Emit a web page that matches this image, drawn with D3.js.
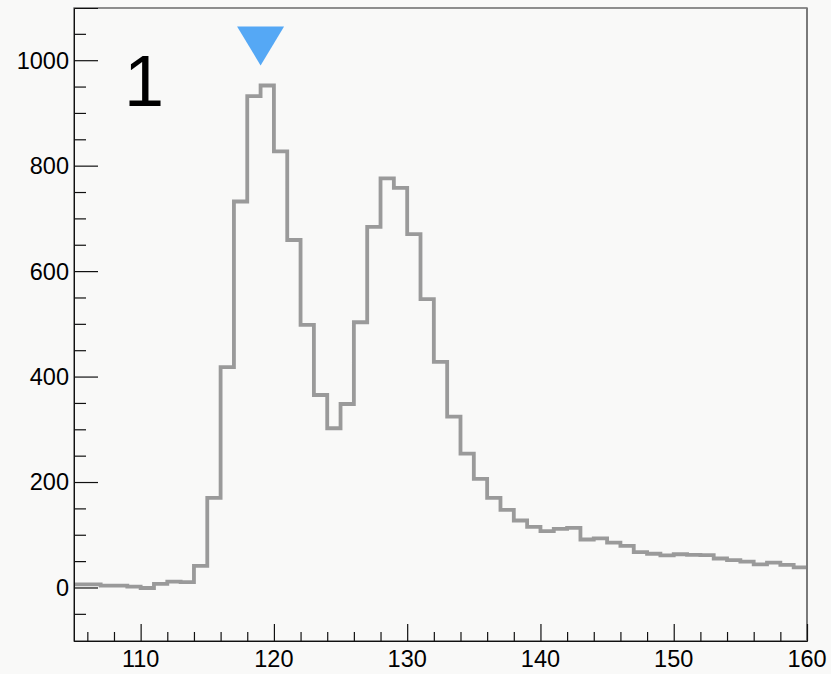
<!DOCTYPE html>
<html>
<head>
<meta charset="utf-8">
<script src="https://cdn.jsdelivr.net/npm/d3@7"></script>
<style>
  html, body { margin: 0; padding: 0; background: #f9f9f8; }
  svg { display: block; }
</style>
</head>
<body>
<svg id="chart" width="831" height="674"></svg>
<script>
// ---- data ----
const binLowEdges = [105,106,107,108,109,110,111,112,113,114,115,116,117,118,119,120,121,122,123,124,
  125,126,127,128,129,130,131,132,133,134,135,136,137,138,139,140,141,142,143,144,
  145,146,147,148,149,150,151,152,153,154,155,156,157,158,159];
const binWidth = 1;
const counts = [6,6,3.5,3.5,1.5,-1,7,11,10,41,170,418,732,932,952,827,659,498,365,302,
  348,503,684,776,758,670,547,428,324,254,206,170,147,127,115,107,111,113,91,93,
  85,79,67,64,61,63,62,61.5,55,52,49,44,47,43,38];
const xDomain = [105, 160];
const yDomain = [-101.5, 1099];
const xMajorTicks = [110,120,130,140,150,160];
const xMinorTicks = [106,108,112,114,116,118,122,124,126,128,132,134,136,138,142,144,146,148,152,154,156,158];
const yMajorTicks = [0,200,400,600,800,1000];
const yMinorTicks = [-50,50,100,150,250,300,350,450,500,550,650,700,750,850,900,950,1050];
const markerPoint = {x: 119, y: 1027};
const padLabel = "1";

// ---- layout ----
const svg = d3.select("#chart");
const L = 74, R = 807, T = 8, B = 641;
const x = d3.scaleLinear().domain(xDomain).range([L, R]);
const y = d3.scaleLinear().domain(yDomain).range([B, T]);
const font = "'Liberation Sans', Arial, Helvetica, sans-serif";

svg.append("rect").attr("x", 0).attr("y", 0).attr("width", 831).attr("height", 674).attr("fill", "#f9f9f8");

svg.append("defs").append("clipPath").attr("id", "clip")
  .append("rect").attr("x", L).attr("y", T).attr("width", R - L).attr("height", B - T);

// histogram step path
const pts = [];
counts.forEach((v, i) => {
  pts.push([binLowEdges[i], v]);
  pts.push([binLowEdges[i] + binWidth, v]);
});
const line = d3.line().x(d => x(d[0])).y(d => y(d[1]));
svg.append("path")
  .attr("d", line(pts))
  .attr("fill", "none")
  .attr("stroke", "#9a9a9a")
  .attr("stroke-width", 3.8)
  .attr("stroke-linejoin", "miter")
  .attr("clip-path", "url(#clip)");

// frame
svg.append("rect").attr("x", L).attr("y", T).attr("width", R - L).attr("height", B - T)
  .attr("fill", "none").attr("stroke", "#555").attr("stroke-width", 1.3);
svg.append("line").attr("x1", R).attr("x2", R).attr("y1", T).attr("y2", B)
  .attr("stroke", "#7a7a7a").attr("stroke-width", 2);

// y axis
const yAxis = d3.axisRight(y).tickValues(yMajorTicks).tickSize(24).tickFormat("");
const gy = svg.append("g").attr("transform", `translate(${L},0)`).call(yAxis);
gy.select(".domain").attr("stroke", "#111");
gy.selectAll(".tick line").attr("stroke", "#111").attr("stroke-width", 1.2);
const yAxisMinor = d3.axisRight(y).tickValues(yMinorTicks).tickSize(12).tickFormat("");
const gym = svg.append("g").attr("transform", `translate(${L},0)`).call(yAxisMinor);
gym.select(".domain").remove();
gym.selectAll(".tick line").attr("stroke", "#111").attr("stroke-width", 1.2);
svg.append("g").selectAll("text").data(yMajorTicks).join("text")
  .attr("x", L - 5).attr("y", d => y(d)).attr("dy", "0.36em")
  .attr("text-anchor", "end")
  .attr("font-family", font).attr("font-size", 23.5).attr("fill", "#000")
  .text(d => d);

// x axis
const xAxis = d3.axisTop(x).tickValues(xMajorTicks).tickSize(17).tickFormat("");
const gx = svg.append("g").attr("transform", `translate(0,${B})`).call(xAxis);
gx.select(".domain").attr("stroke", "#111");
gx.selectAll(".tick line").attr("stroke", "#111").attr("stroke-width", 1.2);
const xAxisMinor = d3.axisTop(x).tickValues(xMinorTicks).tickSize(9).tickFormat("");
const gxm = svg.append("g").attr("transform", `translate(0,${B})`).call(xAxisMinor);
gxm.select(".domain").remove();
gxm.selectAll(".tick line").attr("stroke", "#111").attr("stroke-width", 1.2);
svg.append("g").selectAll("text").data(xMajorTicks).join("text")
  .attr("x", d => x(d)).attr("y", 667)
  .attr("text-anchor", "middle")
  .attr("font-family", font).attr("font-size", 23.5).attr("fill", "#000")
  .text(d => d);

// marker triangle (pointing down)
const mx = x(markerPoint.x), my = y(markerPoint.y);
svg.append("path")
  .attr("d", `M${mx - 23.5},${my - 19.5} L${mx + 23.5},${my - 19.5} L${mx},${my + 19.5} Z`)
  .attr("fill", "#55a8f5");

// pad label
svg.append("text").attr("x", 124).attr("y", 106)
  .attr("font-family", font).attr("font-size", 72).attr("fill", "#000")
  .text(padLabel);
</script>
</body>
</html>
